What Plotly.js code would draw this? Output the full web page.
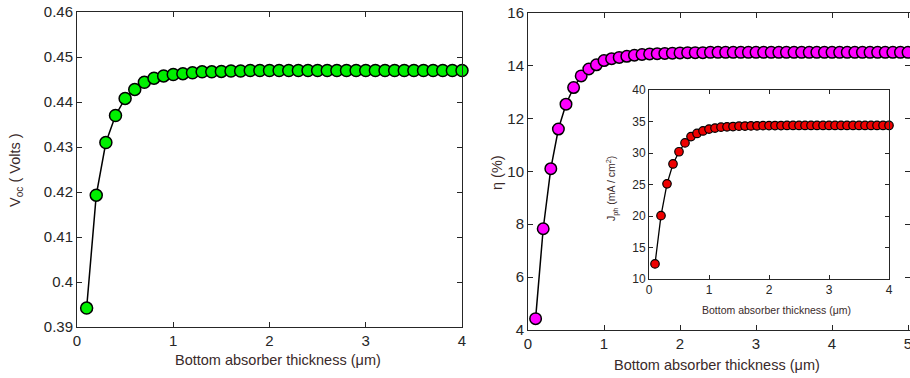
<!DOCTYPE html>
<html><head><meta charset="utf-8">
<script src="https://cdn.plot.ly/plotly-3.0.1.min.js"></script>
<style>html,body{margin:0;padding:0;background:#fff}#c{width:910px;height:378px}</style>
</head><body><div id="c"></div>
<script>
// Bottom absorber thickness (µm)
const thickA = [0.1,0.2,0.3,0.4,0.5,0.6,0.7,0.8,0.9,1.0,1.1,1.2,1.3,1.4,1.5,1.6,1.7,1.8,1.9,2.0,
  2.1,2.2,2.3,2.4,2.5,2.6,2.7,2.8,2.9,3.0,3.1,3.2,3.3,3.4,3.5,3.6,3.7,3.8,3.9,4.0];
const thickB = [0.1,0.2,0.3,0.4,0.5,0.6,0.7,0.8,0.9,1.0,1.1,1.2,1.3,1.4,1.5,1.6,1.7,1.8,1.9,2.0,
  2.1,2.2,2.3,2.4,2.5,2.6,2.7,2.8,2.9,3.0,3.1,3.2,3.3,3.4,3.5,3.6,3.7,3.8,3.9,4.0,
  4.1,4.2,4.3,4.4,4.5,4.6,4.7,4.8,4.9,5.0];
// Voc (Volts)
const voc = [0.3942,0.4193,0.4310,0.4370,0.4408,0.4428,0.4444,0.4453,0.4458,0.4461,0.4463,0.4465,0.4467,0.4467,0.4468,0.4469,0.4469,0.4470,0.4470,0.4470,
  0.4470,0.4470,0.4470,0.4470,0.4470,0.4470,0.4470,0.4470,0.4470,0.4470,0.4470,0.4470,0.4470,0.4470,0.4470,0.4470,0.4470,0.4470,0.4470,0.4470];
// Efficiency eta (%)
const eta = [4.43,7.83,10.10,11.60,12.54,13.17,13.61,13.87,14.03,14.19,14.26,14.31,14.35,14.39,14.42,14.44,14.45,14.46,14.47,14.48,
  14.49,14.49,14.49,14.50,14.50,14.50,14.50,14.50,14.50,14.50,14.50,14.50,14.50,14.50,14.50,14.50,14.50,14.50,14.50,14.50,
  14.50,14.50,14.50,14.50,14.50,14.50,14.50,14.50,14.50,14.50];
// Jph (mA/cm2)
const jph = [12.4,20.05,25.1,28.26,30.2,31.6,32.6,33.1,33.5,33.8,33.95,34.1,34.15,34.2,34.26,34.28,34.3,34.32,34.34,34.35,
  34.36,34.36,34.37,34.37,34.37,34.37,34.37,34.37,34.37,34.37,34.37,34.37,34.37,34.37,34.37,34.37,34.37,34.37,34.37,34.37];

const vocTicks = [0.39,0.40,0.41,0.42,0.43,0.44,0.45,0.46];
const vocTickText = ['0.39','0.4','0.41','0.42','0.43','0.44','0.45','0.46'];

const W=910,H=378;
const px=x=>x/W, py=y=>1-y/H;
const FONT='Liberation Sans, Arial, sans-serif';
const axisBase = {showline:true,mirror:'ticks',linecolor:'#262626',linewidth:1,ticks:'inside',
  ticklen:5,tickcolor:'#262626',showgrid:false,zeroline:false,ticklabeloverflow:'allow',
  tickfont:{family:FONT,size:15,color:'#262626'}};

function ax(o){return Object.assign({},axisBase,o);}

const traces=[
 {x:thickA,y:voc,xaxis:'x',yaxis:'y',mode:'lines+markers',line:{color:'#000',width:1.5},
  marker:{size:12,color:'#00f000',line:{color:'#000',width:1.5}},cliponaxis:false},
 {x:thickB,y:eta,xaxis:'x2',yaxis:'y2',mode:'lines+markers',line:{color:'#000',width:1.5},
  marker:{size:11.5,color:'#ff00ff',line:{color:'#000',width:1.5}},cliponaxis:false},
 {x:thickA,y:jph,xaxis:'x3',yaxis:'y3',mode:'lines+markers',line:{color:'#000',width:1.3},
  marker:{size:8.5,color:'#ee0000',line:{color:'#000',width:1.2}},cliponaxis:false}
];

const titleFont={family:FONT,size:14.5,color:'#3a2a2a'};
const layout={
 width:W,height:H,margin:{l:0,r:0,t:0,b:0},showlegend:false,
 paper_bgcolor:'#fff',plot_bgcolor:'#fff',
 xaxis:ax({domain:[px(77),px(462)],range:[0,4],dtick:1,anchor:'y'}),
 yaxis:ax({domain:[py(327),py(12)],range:[0.39,0.46],tickvals:vocTicks,ticktext:vocTickText,anchor:'x'}),
 xaxis2:ax({domain:[px(528),1],range:[0,5.026],dtick:1,anchor:'y2'}),
 yaxis2:ax({domain:[py(330),py(12.7)],range:[4,16],dtick:2,anchor:'x2'}),
 xaxis3:ax({domain:[px(649),px(889)],range:[0,4],dtick:1,anchor:'y3',ticklen:4,tickfont:{family:FONT,size:12,color:'#262626'}}),
 yaxis3:ax({domain:[py(279),py(90)],range:[10,40],dtick:5,anchor:'x3',ticklen:4,tickfont:{family:FONT,size:12,color:'#262626'}}),
 annotations:[
  {text:'V<sub>oc</sub> ( Volts )',xref:'paper',yref:'paper',x:px(16),y:py(170),textangle:-90,showarrow:false,font:titleFont,xanchor:'center',yanchor:'middle'},
  {text:'Bottom absorber thickness (μm)',xref:'paper',yref:'paper',x:px(278),y:py(360),showarrow:false,font:titleFont,xanchor:'center',yanchor:'middle'},
  {text:'η (%)',xref:'paper',yref:'paper',x:px(497),y:py(172),textangle:-90,showarrow:false,font:titleFont,xanchor:'center',yanchor:'middle'},
  {text:'Bottom absorber thickness (μm)',xref:'paper',yref:'paper',x:px(717),y:py(365),showarrow:false,font:titleFont,xanchor:'center',yanchor:'middle'},
  {text:'J<sub>ph</sub> (mA / cm<sup>2</sup>)',xref:'paper',yref:'paper',x:px(612),y:py(189),textangle:-90,showarrow:false,font:{family:FONT,size:10.5,color:'#3a2a2a'},xanchor:'center',yanchor:'middle'},
  {text:'Bottom absorber thickness (μm)',xref:'paper',yref:'paper',x:px(776),y:py(310),showarrow:false,font:{family:FONT,size:10.5,color:'#3a2a2a'},xanchor:'center',yanchor:'middle'}
 ]
};
Plotly.newPlot('c',traces,layout,{staticPlot:true,displayModeBar:false});
</script></body></html>
